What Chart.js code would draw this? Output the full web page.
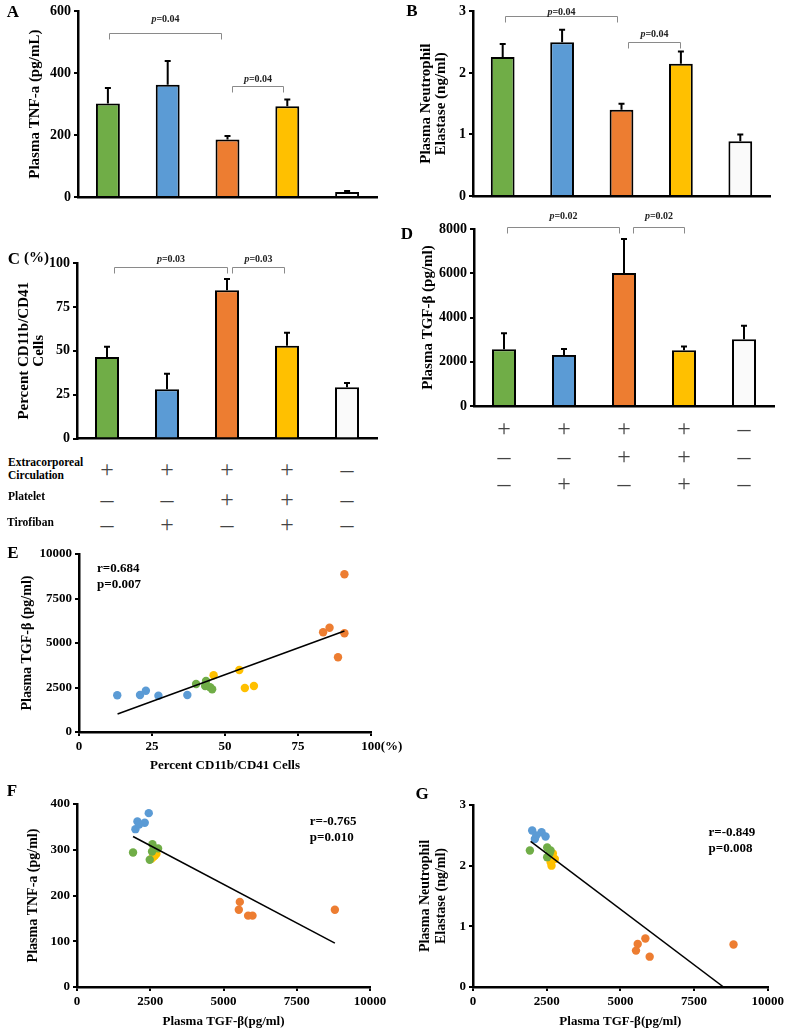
<!DOCTYPE html>
<html>
<head>
<meta charset="utf-8">
<script src="https://cdn.jsdelivr.net/npm/chart.js@4.4.1/dist/chart.umd.min.js"></script>
<style>
  body { margin: 0; background: #fff; }
  #page { position: relative; width: 787px; height: 1032px; overflow: hidden; font-family: 'Liberation Serif', 'Times New Roman', serif; }
  canvas { position: absolute; }
  .txt { position: absolute; font-weight: bold; white-space: nowrap; line-height: 1; color: #000; }
  .letter { font-size: 17px; transform: translate(-50%, -50%); }
  .rowlab { font-size: 11.5px; transform: translateY(-50%); line-height: 13px; }
  .sym { position: absolute; transform: translate(-50%, -50%); line-height: 1; color: #444; }
  .plus { font-size: 24px; }
  .dash { font-size: 26px; }
</style>
</head>
<body>
<div id="page">
  <canvas id="chartA" width="390" height="210" style="left:0;top:0"></canvas>
  <canvas id="chartB" width="397" height="210" style="left:390px;top:0"></canvas>
  <canvas id="chartC" width="390" height="235" style="left:0;top:215px"></canvas>
  <canvas id="chartD" width="397" height="230" style="left:390px;top:190px"></canvas>
  <canvas id="chartE" width="420" height="240" style="left:0;top:540px"></canvas>
  <canvas id="chartF" width="400" height="252" style="left:0;top:780px"></canvas>
  <canvas id="chartG" width="397" height="252" style="left:390px;top:780px"></canvas>

  <div class="txt letter" style="left:13px;top:11px">A</div>
  <div class="txt letter" style="left:412px;top:10px">B</div>
  <div class="txt letter" style="left:14px;top:258px">C</div>
  <div class="txt" style="left:24px;top:250px;font-size:15px">(%)</div>
  <div class="txt letter" style="left:407px;top:233px">D</div>
  <div class="txt letter" style="left:13px;top:552px">E</div>
  <div class="txt letter" style="left:12px;top:790px">F</div>
  <div class="txt letter" style="left:422px;top:793px">G</div>
</div>
<script>
// groups: ECC, ECC+tirofiban, ECC+platelet, ECC+platelet+tirofiban, control
const groups = ['ECC', 'ECC + Tirofiban', 'ECC + Platelet', 'ECC + Platelet + Tirofiban', 'Control'];
const barColors = ['#70AD47', '#5B9BD5', '#ED7D31', '#FFC000', '#FAFAFA'];

// bar panels: mean and upper SD
const tnfMean = [302, 363, 186, 293, 16];
const tnfSD = [50, 77, 11, 22, 3];
const elastaseMean = [2.26, 2.50, 1.40, 2.15, 0.89];
const elastaseSD = [0.21, 0.20, 0.10, 0.20, 0.11];
const cd11bMean = [46.4, 28.1, 84.5, 52.9, 29.2];
const cd11bSD = [5.9, 8.9, 6.4, 7.4, 2.5];
const tgfMean = [2567, 2309, 6008, 2521, 3020];
const tgfSD = [724, 272, 1539, 165, 602];

// significance brackets: from/to category, bracket value, label value, p
const bracketsA = [{ from: 0.02, to: 1.89, y: 529, textY: 573, p: '0.04' }, { from: 2.07, to: 2.93, y: 359, textY: 379, p: '0.04' }];
const bracketsB = [{ from: 0.04, to: 1.92, y: 2.92, textY: 2.98, p: '0.04' }, { from: 2.11, to: 2.98, y: 2.51, textY: 2.62, p: '0.04' }];
const bracketsC = [{ from: 0.12, to: 2.0, y: 98, textY: 102.2, p: '0.03' }, { from: 2.08, to: 2.95, y: 98, textY: 102.2, p: '0.03' }];
const bracketsD = [{ from: 0.05, to: 1.92, y: 8070, textY: 8570, p: '0.02' }, { from: 2.15, to: 3.0, y: 8070, textY: 8570, p: '0.02' }];

// treatment table
const tableRows = ['Extracorporeal Circulation', 'Platelet', 'Tirofiban'];
const eccSigns = ['+', '+', '+', '+', '–'];
const plateletSigns = ['–', '–', '+', '+', '–'];
const tirofibanSigns = ['–', '+', '–', '+', '–'];

// E: percent CD11b/CD41 cells vs TGF-beta
const eGreen = [[40.1, 2697], [43.5, 2865], [43.2, 2584], [44.9, 2511], [45.6, 2399]];
const eBlue = [[13.1, 2062], [20.9, 2079], [22.9, 2320], [27.2, 2040], [37.1, 2079]];
const eOrange = [[83.6, 5601], [85.8, 5860], [90.9, 5545], [88.7, 4197], [90.9, 8860]];
const eYellow = [[46.1, 3185], [54.9, 3483], [56.8, 2472], [59.9, 2584]];
const eTrend = [[13.2, 1011], [90.9, 5674]];

// F: TGF-beta vs TNF-a
const fGreen = [[1913, 294], [2575, 312], [2767, 303], [2561, 296], [2483, 278]];
const fBlue = [[2449, 380], [2062, 362], [2312, 359], [1994, 345], [2121, 355]];
const fOrange = [[5557, 186], [5523, 169], [5840, 156], [5990, 156], [8801, 169]];
const fYellow = [[2654, 287], [2712, 291], [2600, 284], [2540, 280]];
const fTrend = [[1913, 329], [8801, 96]];

// G: TGF-beta vs neutrophil elastase
const gGreen = [[1930, 2.25], [2517, 2.30], [2517, 2.14], [2631, 2.25], [2598, 2.20]];
const gBlue = [[2008, 2.58], [2326, 2.55], [2462, 2.48], [2099, 2.44], [2150, 2.50]];
const gOrange = [[5848, 0.80], [5588, 0.71], [5530, 0.60], [5994, 0.50], [8839, 0.70]];
const gYellow = [[2709, 2.20], [2686, 2.09], [2664, 2.00], [2777, 2.11], [2631, 2.06]];
const gTrend = [[1954, 2.40], [8500, 0.0]];

const serif = "'Liberation Serif', 'Times New Roman', serif";
Chart.defaults.font.family = serif;
Chart.defaults.font.weight = 'bold';
Chart.defaults.color = '#000';

// plain numbers, no thousands separator
const plainTick = v => String(v);

// upward error bars on top of each bar
const errorBarPlugin = {
  id: 'errorBars',
  afterDatasetsDraw(chart, args, opts) {
    const sd = opts.sd;
    if (!sd) return;
    const ctx = chart.ctx, y = chart.scales.y;
    const values = chart.data.datasets[0].data;
    ctx.save();
    ctx.strokeStyle = '#000';
    ctx.lineWidth = 2;
    chart.getDatasetMeta(0).data.forEach((bar, i) => {
      const top = y.getPixelForValue(values[i] + sd[i]);
      ctx.beginPath();
      ctx.moveTo(bar.x, bar.y);
      ctx.lineTo(bar.x, top);
      ctx.moveTo(bar.x - 3, top);
      ctx.lineTo(bar.x + 3, top);
      ctx.stroke();
    });
    ctx.restore();
  }
};

const bracketPlugin = {
  id: 'brackets',
  afterDraw(chart, args, opts) {
    const items = opts.items || [];
    const ctx = chart.ctx, x = chart.scales.x, y = chart.scales.y;
    items.forEach(b => {
      const x1 = Math.round(x.getPixelForValue(b.from)) + 0.5;
      const x2 = Math.round(x.getPixelForValue(b.to)) + 0.5;
      const yy = Math.round(y.getPixelForValue(b.y)) + 0.5;
      ctx.save();
      ctx.strokeStyle = '#8a8a8a';
      ctx.lineWidth = 1;
      ctx.beginPath();
      ctx.moveTo(x1, yy + 6);
      ctx.lineTo(x1, yy);
      ctx.lineTo(x2, yy);
      ctx.lineTo(x2, yy + 6);
      ctx.stroke();
      // italic p, then the value
      const ty = y.getPixelForValue(b.textY);
      const fp = 'italic bold 10px ' + serif, fr = 'bold 10px ' + serif;
      const rest = '=' + b.p;
      ctx.font = fp;
      const wp = ctx.measureText('p').width;
      ctx.font = fr;
      const wr = ctx.measureText(rest).width;
      const sx = (x1 + x2) / 2 - (wp + wr) / 2;
      ctx.fillStyle = '#222';
      ctx.textBaseline = 'middle';
      ctx.textAlign = 'left';
      ctx.font = fp;
      ctx.fillText('p', sx, ty);
      ctx.font = fr;
      ctx.fillText(rest, sx + wp, ty);
      ctx.restore();
    });
  }
};

// r / p text inside scatter panels
const statsPlugin = {
  id: 'stats',
  afterDraw(chart, args, opts) {
    if (!opts.lines) return;
    const ctx = chart.ctx;
    const px = chart.scales.x.getPixelForValue(opts.x);
    const py = chart.scales.y.getPixelForValue(opts.y);
    ctx.save();
    ctx.font = 'bold 13px ' + serif;
    ctx.fillStyle = '#000';
    ctx.textBaseline = 'middle';
    opts.lines.forEach((t, i) => ctx.fillText(t, px, py + i * 16));
    if (opts.suffix) {
      // unit after the last x tick label
      const xs = chart.scales.x;
      const lx = xs.getPixelForValue(xs.max);
      const w = ctx.measureText(String(xs.max)).width;
      ctx.textAlign = 'left';
      ctx.fillText(opts.suffix, lx + w / 2, xs.top + 15);
    }
    ctx.restore();
  }
};

function barChart(id, values, sd, o) {
  return new Chart(document.getElementById(id), {
    type: 'bar',
    data: {
      labels: groups,
      datasets: [{
        data: values,
        backgroundColor: barColors,
        borderColor: '#000',
        borderWidth: 2,
        barPercentage: 0.4,
        categoryPercentage: 1.0
      }]
    },
    options: {
      responsive: false,
      animation: false,
      layout: { padding: o.pad },
      plugins: {
        legend: { display: false },
        tooltip: { enabled: false },
        errorBars: { sd: sd },
        brackets: { items: o.brackets }
      },
      scales: {
        x: {
          grid: { display: false },
          ticks: { display: false },
          border: { color: '#000', width: 2.5 },
          afterFit: s => { s.height = 0; }
        },
        y: {
          min: 0,
          max: o.max,
          ticks: { stepSize: o.step, font: { size: 14 }, padding: 3, callback: plainTick },
          grid: { drawOnChartArea: false, color: '#000', lineWidth: 2, tickLength: 4 },
          border: { color: '#000', width: 2.5 },
          title: { display: true, text: o.title, font: { size: 15, lineHeight: 1 }, padding: { top: o.titlePad, bottom: 0 } },
          afterFit: s => { s.width = o.yWidth; }
        }
      }
    },
    plugins: [errorBarPlugin, bracketPlugin]
  });
}

const toPts = arr => arr.map(p => ({ x: p[0], y: p[1] }));

function scatterChart(id, sets, trend, o) {
  const datasets = [{
    data: toPts(trend),
    showLine: true,
    borderColor: '#000',
    borderWidth: 1.5,
    pointRadius: 0,
    order: 0
  }];
  sets.forEach((s, i) => {
    datasets.push({
      data: toPts(s),
      backgroundColor: o.colors[i],
      borderWidth: 0,
      pointRadius: 4.2,
      order: 1
    });
  });
  return new Chart(document.getElementById(id), {
    type: 'scatter',
    data: { datasets: datasets },
    options: {
      responsive: false,
      animation: false,
      layout: { padding: o.pad },
      plugins: {
        legend: { display: false },
        tooltip: { enabled: false },
        stats: o.stats
      },
      scales: {
        x: {
          min: 0,
          max: o.xMax,
          ticks: { stepSize: o.xStep, font: { size: 13 }, padding: 3, maxRotation: 0, callback: plainTick },
          grid: { drawOnChartArea: false, color: '#000', lineWidth: 2, tickLength: 4 },
          border: { color: '#000', width: 2.5 },
          title: { display: true, text: o.xTitle, font: { size: 13 }, padding: { top: 0, bottom: o.xTitlePad } },
          afterFit: s => { s.height = o.xHeight; }
        },
        y: {
          min: 0,
          max: o.yMax,
          ticks: { stepSize: o.yStep, font: { size: 13 }, padding: 3, callback: plainTick },
          grid: { drawOnChartArea: false, color: '#000', lineWidth: 2, tickLength: 4 },
          border: { color: '#000', width: 2.5 },
          title: { display: true, text: o.yTitle, font: { size: 14, lineHeight: o.yLine || 1.2 }, padding: { top: o.yTitlePad, bottom: 0 } },
          afterFit: s => { s.width = o.yWidth; }
        }
      }
    },
    plugins: [statsPlugin]
  });
}

const chartA = barChart('chartA', tnfMean, tnfSD, {
  max: 600, step: 200, title: 'Plasma TNF-a (pg/mL)', titlePad: 28,
  yWidth: 78, pad: { left: 0, top: 10, right: 13, bottom: 13 }, brackets: bracketsA
});
const chartB = barChart('chartB', elastaseMean, elastaseSD, {
  max: 3, step: 1, title: ['Plasma Neutrophil', 'Elastase (ng/ml)'], titlePad: 29,
  yWidth: 83, pad: { left: 0, top: 9, right: 17, bottom: 14 }, brackets: bracketsB
});
const chartC = barChart('chartC', cd11bMean, cd11bSD, {
  max: 100, step: 25, title: ['Percent CD11b/CD41', 'Cells'], titlePad: 17,
  yWidth: 77, pad: { left: 0, top: 48, right: 13, bottom: 8 }, brackets: bracketsC
});
const chartD = barChart('chartD', tgfMean, tgfSD, {
  max: 8000, step: 2000, title: 'Plasma TGF-β (pg/ml)', titlePad: 31,
  yWidth: 84, pad: { left: 0, top: 39, right: 13, bottom: 14 }, brackets: bracketsD
});

const scatterColors = [barColors[0], barColors[1], barColors[2], barColors[3]];

scatterChart('chartE', [eGreen, eBlue, eOrange, eYellow], eTrend, {
  colors: scatterColors, xMax: 100, xStep: 25, yMax: 10000, yStep: 2500,
  xTitle: 'Percent CD11b/CD41 Cells', yTitle: 'Plasma TGF-β (pg/ml)',
  xHeight: 43, xTitlePad: 2, yWidth: 79, yTitlePad: 19,
  pad: { left: 0, top: 14, right: 49, bottom: 5 },
  stats: { x: 6.2, y: 9157, lines: ['r=0.684', 'p=0.007'], suffix: '(%)' }
});
scatterChart('chartF', [fGreen, fBlue, fOrange, fYellow], fTrend, {
  colors: scatterColors, xMax: 10000, xStep: 2500, yMax: 400, yStep: 100,
  xTitle: 'Plasma TGF-β(pg/ml)', yTitle: 'Plasma TNF-a (pg/ml)',
  xHeight: 45, xTitlePad: 3, yWidth: 77, yTitlePad: 25,
  pad: { left: 0, top: 24, right: 30, bottom: 0 },
  stats: { x: 7947, y: 361.6, lines: ['r=-0.765', 'p=0.010'] }
});
scatterChart('chartG', [gGreen, gBlue, gOrange, gYellow], gTrend, {
  colors: scatterColors, xMax: 10000, xStep: 2500, yMax: 3, yStep: 1,
  xTitle: 'Plasma TGF-β(pg/ml)', yTitle: ['Plasma Neutrophil', 'Elastase (ng/ml)'], yLine: 1.15,
  xHeight: 45, xTitlePad: 3, yWidth: 83, yTitlePad: 27,
  pad: { left: 0, top: 25, right: 18, bottom: 0 },
  stats: { x: 7992, y: 2.54, lines: ['r=-0.849', 'p=0.008'] }
});

// +/- tables under C and D, columns follow the bar positions
const page = document.getElementById('page');
function addText(cls, text, left, top) {
  const d = document.createElement('div');
  d.className = cls;
  d.textContent = text;
  d.style.left = left + 'px';
  d.style.top = top + 'px';
  page.appendChild(d);
}
function signTable(chart, canvasLeft, rowTops) {
  [eccSigns, plateletSigns, tirofibanSigns].forEach((row, r) => {
    row.forEach((s, i) => {
      const cx = canvasLeft + chart.scales.x.getPixelForValue(i);
      addText('sym ' + (s === '+' ? 'plus' : 'dash'), s, cx, rowTops[r] + (s === '+' ? -1 : 0));
    });
  });
}
signTable(chartC, 0, [470, 500, 525]);
signTable(chartD, 390, [429, 457, 484]);

// row labels of the left table
addText('txt rowlab', 'Extracorporeal', 8, 462);
addText('txt rowlab', 'Circulation', 8, 475);
addText('txt rowlab', tableRows[1], 8, 496);
addText('txt rowlab', tableRows[2], 7, 522);
</script>
</body>
</html>
